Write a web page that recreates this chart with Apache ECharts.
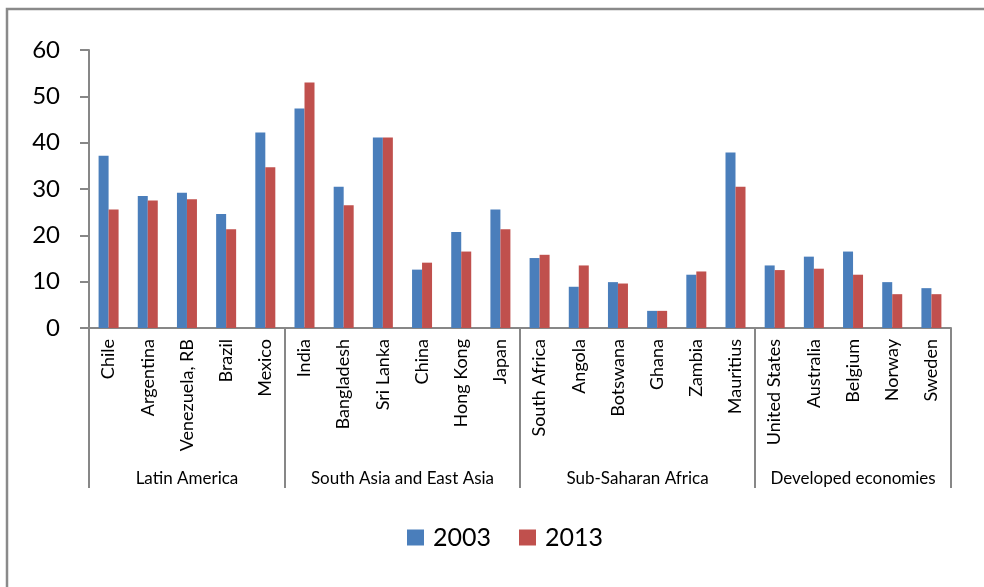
<!DOCTYPE html>
<html>
<head>
<meta charset="utf-8">
<script src="https://cdn.jsdelivr.net/npm/echarts@6/dist/echarts.min.js"></script>
<style>
  html, body { margin: 0; padding: 0; background: #fff; }
  #chart { width: 984px; height: 587px; }
</style>
</head>
<body>
<div id="chart"></div>
<script>
const countries = [
  'Chile', 'Argentina', 'Venezuela, RB', 'Brazil', 'Mexico',
  'India', 'Bangladesh', 'Sri Lanka', 'China', 'Hong Kong', 'Japan',
  'South Africa', 'Angola', 'Botswana', 'Ghana', 'Zambia', 'Mauritius',
  'United States', 'Australia', 'Belgium', 'Norway', 'Sweden',
]
const groups = ['Latin America', 'South Asia and East Asia', 'Sub-Saharan Africa', 'Developed economies']
const groupSizes = [5, 6, 6, 5]
const values2003 = [37.2, 28.5, 29.2, 24.6, 42.2, 47.4, 30.5, 41.1, 12.6, 20.7, 25.6, 15.1, 8.9, 9.9, 3.7, 11.5, 37.9, 13.5, 15.4, 16.5, 9.9, 8.6]
const values2013 = [25.6, 27.5, 27.8, 21.3, 34.7, 53.0, 26.5, 41.1, 14.1, 16.5, 21.3, 15.8, 13.5, 9.6, 3.7, 12.2, 30.5, 12.5, 12.8, 11.5, 7.3, 7.3]
const yTicks = [0, 10, 20, 30, 40, 50, 60]

// group boundaries and centres on a 0..22 value scale
const groupEdges = [0]
groupSizes.forEach((s) => groupEdges.push(groupEdges[groupEdges.length - 1] + s))
const groupCenters = groups.map((g, i) => (groupEdges[i] + groupEdges[i + 1]) / 2)

const axisGray = '#878787'
const font = 'Lato'
const chart = echarts.init(document.getElementById('chart'))

chart.setOption({
  animation: false,
  textStyle: { fontFamily: font },
  grid: { left: 89, right: 33, top: 50, bottom: 259, outerBoundsMode: 'none' },
  graphic: [
    {
      type: 'rect',
      shape: { x: 7, y: 9, width: 1200, height: 800 },
      style: { fill: 'none', stroke: '#8a8a8a', lineWidth: 2.5 },
      silent: true,
    },
  ],
  legend: {
    bottom: 32,
    left: 402,
    itemWidth: 17,
    itemHeight: 16,
    itemGap: 28,
    icon: 'rect',
    textStyle: { fontSize: 25, color: '#000', fontFamily: font, padding: [0, 0, 0, 4] },
    data: ['2003', '2013'],
  },
  xAxis: [
    {
      type: 'category',
      data: countries,
      axisLine: { lineStyle: { color: axisGray, width: 2 } },
      axisTick: { interval: 0, length: 124, lineStyle: { color: axisGray, width: 2 } },
      axisLabel: { interval: 0, rotate: 90, margin: 11, fontSize: 18, color: '#000' },
      splitLine: { show: false },
    },
    {
      type: 'value',
      min: 0,
      max: countries.length,
      position: 'bottom',
      axisLine: { show: false },
      splitLine: { show: false },
      axisTick: {
        show: true,
        length: 160,
        customValues: groupEdges,
        lineStyle: { color: axisGray, width: 2 },
      },
      axisLabel: {
        show: true,
        customValues: groupCenters,
        margin: 142,
        fontSize: 17,
        color: '#000',
        formatter: (v) => {
          const i = groupCenters.indexOf(v)
          return i >= 0 ? groups[i] : ''
        },
      },
    },
  ],
  yAxis: {
    type: 'value',
    min: 0,
    max: 60,
    interval: 10,
    axisLine: { show: true, lineStyle: { color: axisGray, width: 2 } },
    axisTick: { show: true, length: 9, lineStyle: { color: axisGray, width: 2 } },
    axisLabel: {
      margin: 29,
      fontSize: 24,
      color: '#000',
      formatter: (v) => (yTicks.includes(v) ? String(v) : ''),
    },
    splitLine: { show: false },
  },
  series: [
    {
      name: '2003',
      type: 'bar',
      data: values2003,
      barWidth: 10,
      barGap: '0%',
      itemStyle: { color: '#4A7EBB' },
    },
    {
      name: '2013',
      type: 'bar',
      data: values2013,
      barWidth: 10,
      barGap: '0%',
      itemStyle: { color: '#C0504D' },
    },
  ],
})
</script>
</body>
</html>
